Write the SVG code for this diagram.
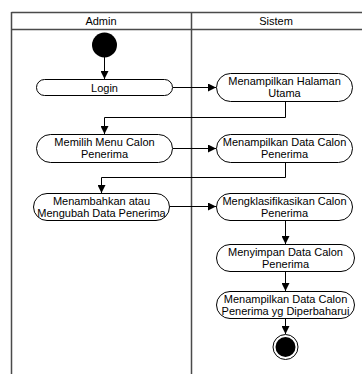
<svg xmlns="http://www.w3.org/2000/svg" width="362" height="374" viewBox="0 0 362 374">
  <style>
    .lane { fill: none; stroke: #4a4a4a; stroke-width: 1.5; }
    .act { fill: #ffffff; stroke: #000000; stroke-width: 1; }
    .lbl { font-family: "Liberation Sans", Arial, sans-serif; font-size: 11px; fill: #000000; text-anchor: middle; }
    .flow { fill: none; stroke: #000000; stroke-width: 1; marker-end: url(#arrow); }
  </style>
  <defs>
    <marker id="arrow" viewBox="0 0 8 8" refX="8" refY="4" markerWidth="8" markerHeight="8" markerUnits="userSpaceOnUse" orient="auto">
      <path d="M0,0 L8,4 L0,8 Z" fill="#000000"/>
    </marker>
  </defs>

  <rect width="362" height="374" fill="#ffffff"/>

  <!-- swimlanes -->
  <g id="lanes">
    <line class="lane" x1="11.5" y1="12.5" x2="362" y2="12.5"/>
    <line class="lane" x1="11.5" y1="29.5" x2="362" y2="29.5" stroke="#8a8a8a"/>
    <line class="lane" x1="11.5" y1="12" x2="11.5" y2="374"/>
    <line class="lane" x1="191.5" y1="12" x2="191.5" y2="374"/>
    <text class="lbl" x="101" y="24.5">Admin</text>
    <text class="lbl" x="276" y="24.5">Sistem</text>
  </g>

  <!-- connectors -->
  <g id="connectors">
    <line class="flow" x1="104.5" y1="57" x2="104.5" y2="79"/>
    <line class="flow" x1="173" y1="87.5" x2="216" y2="87.5"/>
    <polyline class="flow" points="285.5,101 285.5,117.5 104.5,117.5 104.5,134"/>
    <line class="flow" x1="173" y1="148.5" x2="216" y2="148.5"/>
    <polyline class="flow" points="285.5,162 285.5,177.5 101.5,177.5 101.5,193"/>
    <line class="flow" x1="170" y1="206.5" x2="216" y2="206.5"/>
    <line class="flow" x1="285.5" y1="220" x2="285.5" y2="244"/>
    <line class="flow" x1="285.5" y1="272" x2="285.5" y2="291"/>
    <line class="flow" x1="285.5" y1="319" x2="285.5" y2="334"/>
  </g>

  <g id="start">
    <circle cx="104.5" cy="45" r="12.5" fill="#000000"/>
  </g>

  <g id="login">
    <rect class="act" x="36.5" y="79.5" width="136" height="16" rx="8"/>
    <text class="lbl" x="104.5" y="91.5">Login</text>
  </g>

  <g id="halaman-utama">
    <rect class="act" x="216.5" y="73.5" width="136" height="28" rx="14"/>
    <text class="lbl" x="284.5" y="85">Menampilkan Halaman</text>
    <text class="lbl" x="284.5" y="97">Utama</text>
  </g>

  <g id="memilih-menu">
    <rect class="act" x="36.5" y="134.5" width="136" height="28" rx="14"/>
    <text class="lbl" x="104.5" y="146">Memilih Menu Calon</text>
    <text class="lbl" x="104.5" y="158">Penerima</text>
  </g>

  <g id="tampil-data">
    <rect class="act" x="216.5" y="134.5" width="136" height="28" rx="14"/>
    <text class="lbl" x="284.5" y="146">Menampilkan Data Calon</text>
    <text class="lbl" x="284.5" y="158">Penerima</text>
  </g>

  <g id="ubah-data">
    <rect class="act" x="33.5" y="193.5" width="136" height="27" rx="13.5"/>
    <text class="lbl" x="101.5" y="204.5">Menambahkan atau</text>
    <text class="lbl" x="101.5" y="216.5">Mengubah Data Penerima</text>
  </g>

  <g id="klasifikasi">
    <rect class="act" x="216.5" y="193.5" width="136" height="27" rx="13.5"/>
    <text class="lbl" x="284.5" y="204.5">Mengklasifikasikan Calon</text>
    <text class="lbl" x="284.5" y="216.5">Penerima</text>
  </g>

  <g id="simpan">
    <rect class="act" x="216.5" y="244.5" width="138" height="27" rx="13.5"/>
    <text class="lbl" x="285.5" y="255.5">Menyimpan Data Calon</text>
    <text class="lbl" x="285.5" y="267.5">Penerima</text>
  </g>

  <g id="tampil-baru">
    <rect class="act" x="216.5" y="291.5" width="138" height="27" rx="13.5"/>
    <text class="lbl" x="285.5" y="302.5">Menampilkan Data Calon</text>
    <text class="lbl" x="285.5" y="314.5">Penerima yg Diperbaharui</text>
  </g>

  <g id="end">
    <circle cx="285.5" cy="347" r="12.5" fill="#ffffff" stroke="#000000" stroke-width="1"/>
    <circle cx="285.5" cy="347" r="10" fill="#000000"/>
  </g>
</svg>
